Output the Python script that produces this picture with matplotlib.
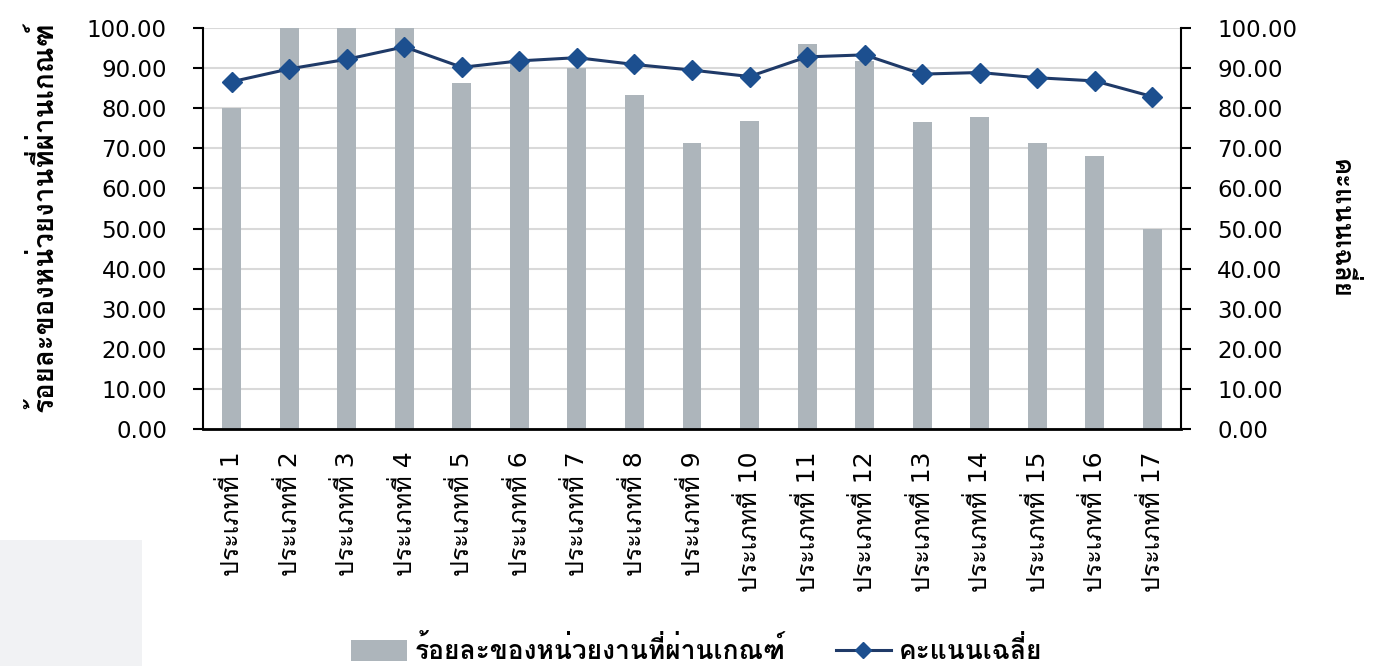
import matplotlib
matplotlib.use("Agg")
import matplotlib.pyplot as plt
from matplotlib.patches import Rectangle, Patch
from matplotlib.lines import Line2D

categories = ["ประเภทที่ %d" % i for i in range(1, 18)]
pct_passed = [80.0, 100.0, 100.0, 100.0, 86.2, 91.5, 90.0, 83.3, 71.4,
              76.7, 95.9, 91.8, 76.5, 77.8, 71.4, 68.0, 50.0]
avg_score = [86.6, 89.8, 92.2, 95.3, 90.2, 91.8, 92.6, 90.9, 89.5,
             87.9, 92.8, 93.3, 88.5, 88.9, 87.6, 86.8, 82.9]
yticks = [0, 10, 20, 30, 40, 50, 60, 70, 80, 90, 100]

bar_color = "#adb5bb"
line_color = "#1f3a68"
marker_color = "#1c4f8f"
thai = ["DejaVu Sans", "Loma"]

fig = plt.figure(figsize=(13.8, 6.66), dpi=100)
# faint grey box in the lower-left corner of the original image
fig.patches.append(Rectangle((0, 0), 142 / 1380, 126 / 666, transform=fig.transFigure,
                             facecolor="#f1f2f4", edgecolor="none", zorder=0))

ax = fig.add_axes([203 / 1380, 1 - 429 / 666, (1181 - 203) / 1380, (429 - 28) / 666])
ax.set_facecolor("none")
x = list(range(len(categories)))
ax.bar(x, pct_passed, width=0.33, color=bar_color, zorder=2)
ax.set_xlim(-0.5, len(categories) - 0.5)
ax.set_ylim(0, 100)
ax.set_yticks(yticks)
ax.set_yticklabels(["%.2f" % v for v in yticks], fontsize=16.5, family="DejaVu Sans")
ax.yaxis.grid(True, color="#d9d9d9", linewidth=1.5, zorder=0)
ax.set_axisbelow(True)
ax.set_xticks(x)
ax.set_xticklabels(categories, rotation=90, fontsize=18, family=thai, va="top")
ax.tick_params(axis="x", length=0, pad=16)
ax.tick_params(axis="y", length=7, width=1.5, pad=19)
for s in ["top", "right"]:
    ax.spines[s].set_visible(False)
ax.spines["left"].set_linewidth(1.5)
ax.spines["bottom"].set_linewidth(2)
ax.set_ylabel("ร้อยละของหน่วยงานที่ผ่านเกณฑ์", fontsize=20, family=thai,
              fontweight="bold", va="center")
ax.yaxis.set_label_coords(-0.163, 0.53)

ax2 = ax.twinx()
ax2.plot(x, avg_score, color=line_color, linewidth=2.2, marker="D", markersize=10,
         markerfacecolor=marker_color, markeredgecolor=marker_color, zorder=3)
ax2.set_ylim(0, 100)
ax2.set_yticks(yticks)
ax2.set_yticklabels(["%.2f" % v for v in yticks], fontsize=16.5, family="DejaVu Sans")
ax2.tick_params(axis="y", length=7, width=1.5, pad=19)
for s in ["top", "left", "bottom"]:
    ax2.spines[s].set_visible(False)
ax2.spines["right"].set_linewidth(1.5)
ax2.set_ylabel("คะแนนเฉลี่ย", fontsize=18.5, family=thai, fontweight="bold",
               rotation=270, va="center")
ax2.yaxis.set_label_coords(1.163, 0.50)

handles = [Patch(facecolor=bar_color, edgecolor="none"),
           Line2D([0], [0], color=line_color, linewidth=2.2, marker="D", markersize=8,
                  markerfacecolor=marker_color, markeredgecolor=marker_color)]
fig.legend(handles, ["ร้อยละของหน่วยงานที่ผ่านเกณฑ์", "คะแนนเฉลี่ย"],
           loc="center", bbox_to_anchor=(0.505, 1 - 651 / 666), ncol=2, frameon=False,
           prop={"family": thai, "size": 19, "weight": "bold"},
           handlelength=2.1, handleheight=0.85, columnspacing=1.9, handletextpad=0.3)

fig.savefig("out.png", dpi=100)
